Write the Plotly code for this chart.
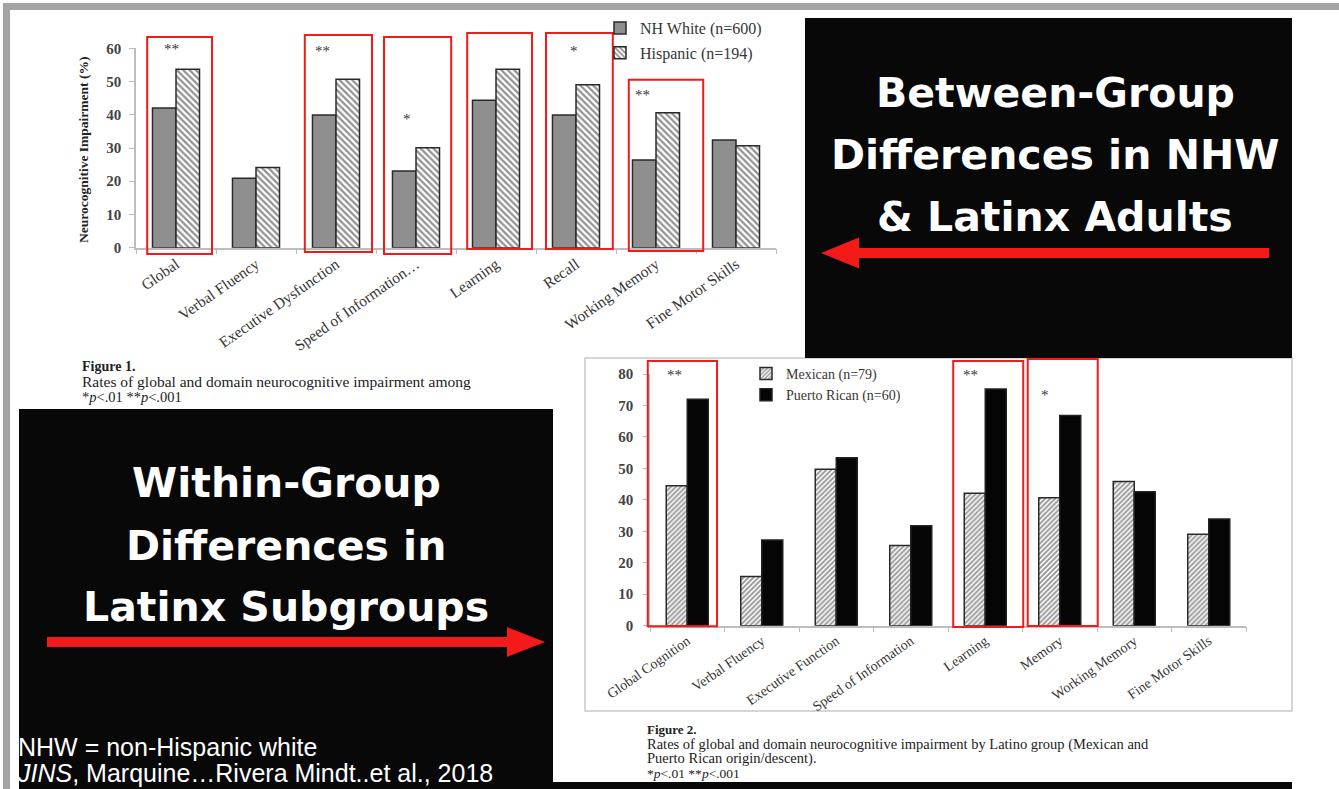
import plotly.graph_objects as go

W, H = 1339, 789


def px(x):
    return x / W


def py(y):
    return 1 - y / H


# ---- Figure 1: NH White vs Hispanic ----
domains1 = ["Global", "Verbal Fluency", "Executive Dysfunction", "Speed of Information…",
            "Learning", "Recall", "Working Memory", "Fine Motor Skills"]
nh_white = [42.0, 20.9, 39.9, 23.1, 44.4, 39.9, 26.4, 32.4]
hispanic = [53.7, 24.1, 50.7, 30.1, 53.7, 49.0, 40.6, 30.7]
sig1 = ["**", "", "**", "*", "*", "*", "**", ""]

# ---- Figure 2: Mexican vs Puerto Rican ----
domains2 = ["Global Cognition", "Verbal Fluency", "Executive Function", "Speed of Information",
            "Learning", "Memory", "Working Memory", "Fine Motor Skills"]
mexican = [44.5, 15.6, 49.7, 25.5, 42.1, 40.7, 45.8, 29.1]
puerto_rican = [72.0, 27.2, 53.4, 31.8, 75.2, 66.8, 42.6, 33.9]
sig2 = ["**", "", "", "", "**", "*", "", ""]

SERIF = "Liberation Serif, Times New Roman, serif"
SANS = "Liberation Sans, Arial, sans-serif"
HEAVY = "DejaVu Sans, Arial Black, sans-serif"
RED = "#f51a1a"
TXT = "#363636"

BW1, BW2 = 0.294, 0.282

fig = go.Figure()

fig.add_trace(go.Bar(
    x=domains1, y=nh_white, name="NH White (n=600)", xaxis="x", yaxis="y",
    offset=-BW1, width=BW1, legend="legend", legendgroup="a",
    marker=dict(color="#8f8f8f", line=dict(color="#2a2a2a", width=1.5)),
))
fig.add_trace(go.Bar(
    x=domains1, y=hispanic, name="Hispanic (n=194)", xaxis="x", yaxis="y",
    offset=0, width=BW1, legend="legend", legendgroup="b",
    marker=dict(color="white", line=dict(color="#2a2a2a", width=1.5),
                pattern=dict(shape="\\", fgcolor="#262626", bgcolor="white",
                             size=4.5, solidity=0.5)),
))
fig.add_trace(go.Bar(
    x=domains2, y=mexican, name="Mexican (n=79)", xaxis="x2", yaxis="y2",
    offset=-BW2, width=BW2, legend="legend2", legendgroup="c",
    marker=dict(color="white", line=dict(color="#2a2a2a", width=1.5),
                pattern=dict(shape="/", fgcolor="#333333", bgcolor="white",
                             size=3.5, solidity=0.55)),
))
fig.add_trace(go.Bar(
    x=domains2, y=puerto_rican, name="Puerto Rican (n=60)", xaxis="x2", yaxis="y2",
    offset=0, width=BW2, legend="legend2", legendgroup="d",
    marker=dict(color="#050505", line=dict(color="#222222", width=1.5)),
))

shapes = []

# slide frame
shapes.append(dict(type="rect", xref="paper", yref="paper", x0=px(3), x1=px(10), y0=py(789), y1=py(3),
                   line=dict(width=0), fillcolor="#a4a4a4", layer="below"))
shapes.append(dict(type="rect", xref="paper", yref="paper", x0=px(3), x1=px(1339), y0=py(10), y1=py(3),
                   line=dict(width=0), fillcolor="#a4a4a4", layer="below"))

# Figure 2 panel border
shapes.append(dict(type="rect", xref="paper", yref="paper", x0=px(585), x1=px(1292), y0=py(711), y1=py(358),
                   line=dict(color="#c8c8c8", width=1.5), fillcolor="rgba(0,0,0,0)", layer="below"))

# black title panels
shapes.append(dict(type="rect", xref="paper", yref="paper", x0=px(805), x1=px(1292), y0=py(358), y1=py(18),
                   line=dict(width=0), fillcolor="#080808"))
shapes.append(dict(type="rect", xref="paper", yref="paper", x0=px(19), x1=px(553), y0=py(789), y1=py(409),
                   line=dict(width=0), fillcolor="#080808"))
shapes.append(dict(type="rect", xref="paper", yref="paper", x0=px(553), x1=px(1292), y0=py(789), y1=py(782),
                   line=dict(width=0), fillcolor="#080808"))


def arrow_path(tail_x, tip_x, cy, shaft_half, head_half, head_len):
    d = 1 if tip_x > tail_x else -1
    base = tip_x - d * head_len
    pts = [(tail_x, cy - shaft_half), (base, cy - shaft_half), (base, cy - head_half),
           (tip_x, cy), (base, cy + head_half), (base, cy + shaft_half), (tail_x, cy + shaft_half)]
    return "M" + " L".join(f"{px(a):.5f},{py(b):.5f}" for a, b in pts) + " Z"


shapes.append(dict(type="path", xref="paper", yref="paper",
                   path=arrow_path(1269, 821, 253, 5, 15.5, 38),
                   fillcolor=RED, line=dict(width=0)))
shapes.append(dict(type="path", xref="paper", yref="paper",
                   path=arrow_path(47, 545, 642, 5, 15, 38),
                   fillcolor=RED, line=dict(width=0)))


# significance highlight boxes: (category index, left, right, top value, bottom value)
boxes1 = [(0, -0.36, 0.45, 63.4, -1.9), (2, -0.39, 0.45, 64.0, -1.3), (3, -0.40, 0.44, 63.4, -1.9),
          (4, -0.36, 0.45, 64.6, -0.4), (5, -0.375, 0.46, 64.6, -0.4), (6, -0.34, 0.59, 50.5, -1.0)]
boxes2 = [(0, -0.53, 0.40, 84.1, -0.2), (4, -0.43, 0.51, 84.1, -0.4), (5, -0.43, 0.51, 84.8, -0.1)]


def add_boxes(boxes, xr, yr, ncat, ymax):
    for i, l, r, top, bot in boxes:
        shapes.append(dict(type="rect", xref=f"{xr} domain", yref=f"{yr} domain",
                           x0=(i + l + 0.5) / ncat, x1=(i + r + 0.5) / ncat,
                           y0=bot / ymax, y1=top / ymax,
                           line=dict(color=RED, width=2), fillcolor="rgba(0,0,0,0)"))


add_boxes(boxes1, "x", "y", len(domains1), 60)
add_boxes(boxes2, "x2", "y2", len(domains2), 80)

annotations = []

# significance stars: (xshift px, y value)
star_pos1 = {0: (-5, 59.8), 2: (-14, 59.2), 3: (-9, 38.7), 4: (-5, 60.1), 5: (-2, 59.2), 6: (-14, 45.9)}
star_pos2 = {0: (-13, 79.7), 4: (-15, 79.7), 5: (-15, 73.3)}
for cats, sig, pos, xr, yr in [(domains1, sig1, star_pos1, "x", "y"), (domains2, sig2, star_pos2, "x2", "y2")]:
    for i, s in enumerate(sig):
        if s:
            xs, yv = pos[i]
            annotations.append(dict(x=cats[i], y=yv, xref=xr, yref=yr, text=s, showarrow=False,
                                    xshift=xs, xanchor="center", yanchor="middle",
                                    font=dict(family=SERIF, size=15, color=TXT)))


def note(x, y, text, size, family=SERIF, color="#222", anchor="left", angle=0):
    annotations.append(dict(x=px(x), y=py(y), xref="paper", yref="paper", text=text, showarrow=False,
                            xanchor=anchor, yanchor="middle", textangle=angle, align="left",
                            font=dict(family=family, size=size, color=color)))


def block(lines, line_gap):
    """Multi-line text block: line pitch follows the base size, each line keeps its own size."""
    base = line_gap / 1.3
    body = "<br>".join(f'<span style="font-size:{s}px">{t}</span>' for t, s in lines)
    return body, base


# y-axis title for Figure 1
note(84, 150, "<b>Neurocognitive Impairment (%)</b>", 13.5, anchor="center", angle=-90)

cap1, base1 = block([("<b>Figure 1.</b>", 14),
                     ("Rates of global and domain neurocognitive impairment among", 15.5),
                     ("*<i>p</i>&lt;.01 **<i>p</i>&lt;.001", 14.5)], 15.5)
note(80, 382, cap1, base1)

cap2, base2 = block([("<b>Figure 2.</b>", 13),
                     ("Rates of global and domain neurocognitive impairment by Latino group (Mexican and", 14.5),
                     ("Puerto Rican origin/descent).", 14.5),
                     ("*<i>p</i>&lt;.01 **<i>p</i>&lt;.001", 13.5)], 14.5)
note(645, 751, cap2, base2)

for y, t in [(93, "Between-Group"), (155, "Differences in NHW"), (217, "& Latinx Adults")]:
    note(1055, y, f"<b>{t}</b>", 41, family=HEAVY, color="white", anchor="center")
for y, t in [(483, "Within-Group"), (546, "Differences in"), (607, "Latinx Subgroups")]:
    note(286, y, f"<b>{t}</b>", 41, family=HEAVY, color="white", anchor="center")

cite, base3 = block([("NHW = non-Hispanic white", 25),
                     ("<i>JINS</i>, Marquine…Rivera Mindt..et al., 2018", 25)], 26)
note(15, 760, cite, base3, family=SANS, color="white")

axis_common = dict(showline=True, linecolor="#bdbdbd", linewidth=1.5, showgrid=False, zeroline=False,
                   ticks="outside", tickcolor="#bdbdbd", ticklen=5, fixedrange=True, automargin=False)

fig.update_layout(
    width=W, height=H, margin=dict(l=0, r=0, t=0, b=0, autoexpand=False),
    paper_bgcolor="white", plot_bgcolor="rgba(0,0,0,0)",
    barmode="overlay", showlegend=True,
    xaxis=dict(**axis_common, domain=[px(136), px(776)], anchor="y", type="category",
               range=[-0.5, 7.5], tickson="boundaries", tickangle=-35,
               tickfont=dict(family=SERIF, size=15.5, color=TXT)),
    yaxis=dict(**axis_common, domain=[py(247.7), py(48.3)], anchor="x", range=[0, 60], dtick=10,
               ticklabelstandoff=5, tickfont=dict(family=SERIF, size=15, color="#444", weight="bold")),
    xaxis2=dict(**axis_common, domain=[px(650), px(1246)], anchor="y2", type="category",
                range=[-0.5, 7.5], tickson="boundaries", tickangle=-35,
                tickfont=dict(family=SERIF, size=14, color=TXT)),
    yaxis2=dict(**axis_common, domain=[py(625.7), py(374)], anchor="x2", range=[0, 80], dtick=10,
                ticklabelstandoff=7, tickfont=dict(family=SERIF, size=15, color="#444", weight="bold")),
    legend=dict(x=px(600), y=py(11), xanchor="left", yanchor="top", bgcolor="rgba(0,0,0,0)",
                traceorder="grouped", tracegroupgap=1,
                font=dict(family=SERIF, size=16, color=TXT)),
    legend2=dict(x=px(746), y=py(358), xanchor="left", yanchor="top", bgcolor="rgba(0,0,0,0)",
                 traceorder="grouped", tracegroupgap=0,
                 font=dict(family=SERIF, size=14, color=TXT)),
    shapes=shapes,
    annotations=annotations,
)

fig.write_html("out.html")
